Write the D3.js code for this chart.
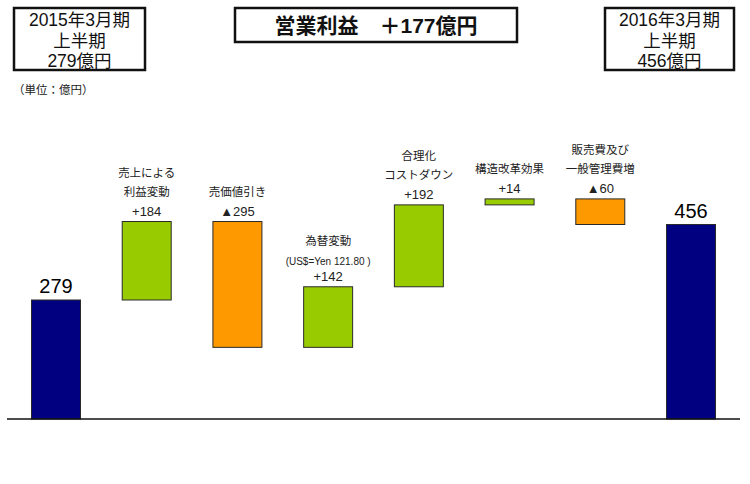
<!DOCTYPE html>
<html><head><meta charset="utf-8">
<script src="https://cdn.jsdelivr.net/npm/d3@7"></script>
<style>
body{margin:0;background:#fff;}
svg{display:block;font-family:"Liberation Sans","Noto Sans CJK JP",sans-serif;}
</style></head>
<body>
<svg id="c" width="750" height="484"></svg>
<script>
const categories = ["2015上半期","売上による利益変動","売価値引き","為替変動","合理化コストダウン","構造改革効果","販売費及び一般管理費増","2016上半期"];
const values = [279, 184, -295, 142, 192, 14, -60, 456];
const kinds = ["total","up","down","up","up","up","down","total"];
const labelLines = [
  [],
  ["売上による","利益変動"],
  ["売価値引き"],
  ["為替変動","(US$=Yen 121.80 )"],
  ["合理化","コストダウン"],
  ["構造改革効果"],
  ["販売費及び","一般管理費増"],
  []
];
const valueLabels = ["279","+184","▲295","+142","+192","+14","▲60","456"];
const colors = {total:"#000080", up:"#99CC00", down:"#FF9900"};

const svg = d3.select("#c");

let run = 0;
const data = categories.map((c,i)=>{
  let y0,y1;
  if(kinds[i]==="total"){ y0=0; y1=values[i]; run=values[i]; }
  else { y0=run; y1=run+values[i]; run=y1; }
  return {c, i, lo:Math.min(y0,y1), hi:Math.max(y0,y1), kind:kinds[i]};
});

const x = d3.scaleBand().domain(categories).range([7,740]).paddingInner(0.46).paddingOuter(0.27);
const y = d3.scaleLinear().domain([0,456]).range([419,224.5]);

svg.selectAll("rect.bar").data(data).join("rect")
  .attr("class","bar")
  .attr("x",d=>x(d.c)).attr("width",x.bandwidth())
  .attr("y",d=>y(d.hi)).attr("height",d=>y(d.lo)-y(d.hi))
  .attr("fill",d=>colors[d.kind])
  .attr("stroke","#2a2a2a").attr("stroke-width",1);

svg.append("line").attr("x1",x.range()[0]).attr("x2",x.range()[1])
  .attr("y1",y(0)).attr("y2",y(0)).attr("stroke","#111").attr("stroke-width",1.6);

data.forEach(d=>{
  const cx = x(d.c)+x.bandwidth()/2;
  const top = y(d.hi);
  if(d.kind==="total"){
    svg.append("text").attr("x",cx).attr("y",top-7).attr("text-anchor","middle")
      .attr("font-size",20).attr("fill","#000").text(valueLabels[d.i]);
    return;
  }
  let yy = top-6;
  svg.append("text").attr("x",cx).attr("y",yy).attr("text-anchor","middle")
    .attr("font-size",13).attr("fill","#222").text(valueLabels[d.i]);
  const lines = labelLines[d.i].slice().reverse();
  lines.forEach((t)=>{
    const small = t.startsWith("(");
    yy -= small ? 16 : 19.5;
    svg.append("text").attr("x",cx).attr("y",yy).attr("text-anchor","middle")
      .attr("font-size",small?10:11.5).attr("fill","#222").text(t);
  });
});

function box(x0,y0,w,h,lines,fs,weight,c0,gap){
  svg.append("rect").attr("x",x0).attr("y",y0).attr("width",w).attr("height",h)
    .attr("fill","#fff").attr("stroke","#111").attr("stroke-width",2.5);
  lines.forEach((t,k)=>{
    svg.append("text").attr("x",x0+w/2).attr("y",c0+k*gap).attr("text-anchor","middle")
      .attr("dominant-baseline","central")
      .attr("font-size",fs).attr("font-weight",weight||400).attr("fill","#111").text(t);
  });
}
box(14,8,131,62,["2015年3月期","上半期","279億円"],17.5,400,20,20.5);
box(235,8,282,34,["営業利益　＋177億円"],21,700,25,0);
box(605,8,129,62,["2016年3月期","上半期","456億円"],17.5,400,20,20.5);

svg.append("text").attr("x",13).attr("y",94).attr("font-size",11.5).attr("fill","#222").text("（単位：億円）");
</script>
</body></html>
